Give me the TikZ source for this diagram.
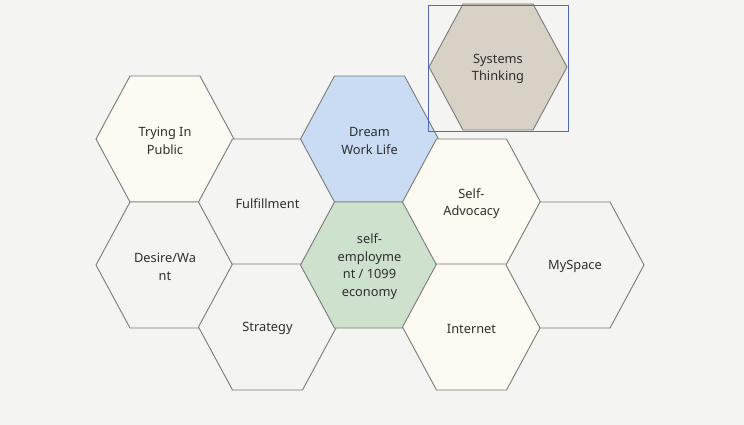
\documentclass[tikz,border=0pt]{standalone}
\usepackage{fontspec}
\setmainfont{Noto Sans}
\usetikzlibrary{calc}

\definecolor{paper}{HTML}{F4F4F2}
\definecolor{cream}{HTML}{FDFAF1}
\definecolor{sky}{HTML}{CADCF3}
\definecolor{sage}{HTML}{CEE1CD}
\definecolor{stone}{HTML}{D8D1C5}
\definecolor{rim}{HTML}{7A7A78}
\definecolor{ink}{HTML}{2E2E2E}
\definecolor{selblue}{HTML}{5467B4}

% hexagon cell: name, centre, fill, text
\newcommand{\hexcell}[4]{%
  \draw[hexline, fill=#3] ($(#2)+(-69,0)$) -- ++(34,-63) -- ++(70,0)
      -- ++(34,63) -- ++(-34,63) -- ++(-70,0) -- cycle;
  \node[hextext] (#1) at (#2) {#4};}

\begin{document}
\begin{tikzpicture}[
  x=1pt, y=-1pt,
  hexline/.style={draw=rim, line width=0.9pt, line join=miter},
  hextext/.style={
    align=center, text=ink, inner sep=0pt, yshift=-1.8pt,
    font=\fontsize{12.8}{17.6}\selectfont},
  selbox/.style={draw=selblue, line width=0.9pt},
]

  % ── Canvas ──────────────────────────────────────────────────────────────
  \fill[paper] (0,0) rectangle (744,425);
  \useasboundingbox (0,0) rectangle (744,425);

  % ── Left column ─────────────────────────────────────────────────────────
  \hexcell{trying}{165,139}{cream}{Trying In\\Public}
  \hexcell{desire}{165,265}{paper}{Desire/Wa\\nt}

  % ── Second column ───────────────────────────────────────────────────────
  \hexcell{fulfil}{267.5,202}{paper}{Fulfillment}
  \hexcell{strategy}{267.5,327}{paper}{Strategy}

  % ── Centre column ───────────────────────────────────────────────────────
  \hexcell{dream}{369.5,139}{sky}{Dream\\Work Life}
  \hexcell{selfemp}{369.5,265}{sage}{self-\\employme\\nt / 1099\\economy}

  % ── Fourth column ───────────────────────────────────────────────────────
  \hexcell{advocacy}{471.5,202}{cream}{Self-\\Advocacy}
  \hexcell{internet}{471.5,327}{cream}{Internet}

  % ── Right column ────────────────────────────────────────────────────────
  \hexcell{myspace}{575,265}{paper}{MySpace}

  % ── Selected cell, off the grid ─────────────────────────────────────────
  \hexcell{systems}{498,67}{stone}{Systems\\Thinking}
  \draw[selbox] ($(systems)+(-70,-63)$) rectangle ($(systems)+(70,63)$);

\end{tikzpicture}
\end{document}
